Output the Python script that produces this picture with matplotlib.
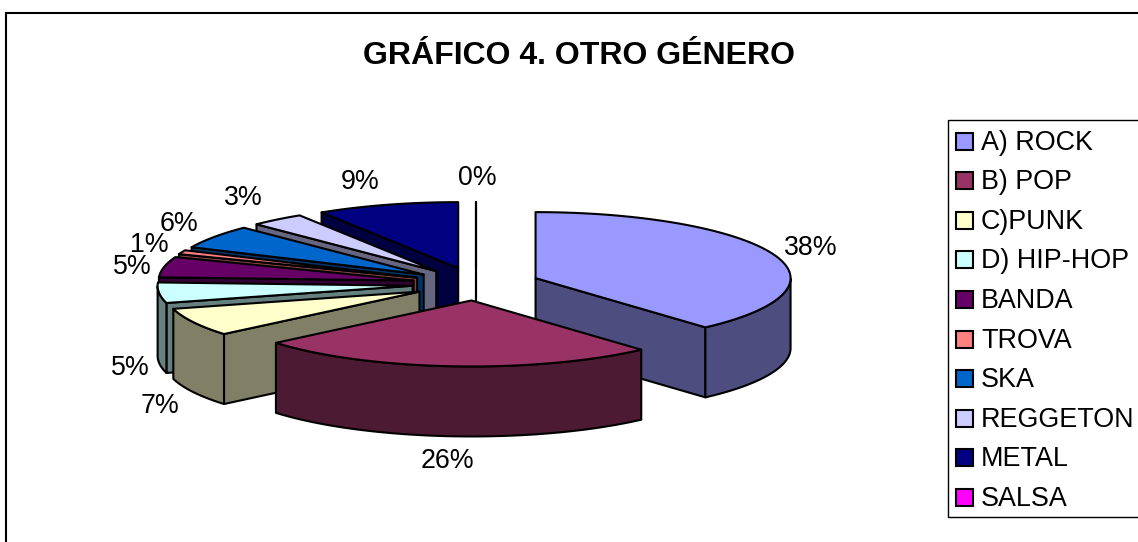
import numpy as np
import matplotlib
matplotlib.use("Agg")
import matplotlib.pyplot as plt
from matplotlib.patches import Polygon, Rectangle

plt.rcParams["font.family"] = ["Liberation Sans", "DejaVu Sans"]

# chart data (slice sizes estimated from the outline, labels are rounded)
genres = ["A) ROCK", "B) POP", "C)PUNK", "D) HIP-HOP", "BANDA",
          "TROVA", "SKA", "REGGETON", "METAL", "SALSA"]
shares = [38.4, 25.5, 6.9, 5.0, 5.0, 1.0, 5.75, 3.45, 9.0, 0.0]
colors = ["#9999FF", "#993366", "#FFFFCC", "#CCFFFF", "#660066",
          "#FF8080", "#0066CC", "#CCCCFF", "#000080", "#FF00FF"]
title = "GRÁFICO 4. OTRO GÉNERO"

# pie geometry in pixels
CX, CY = 476, 284
RX, RY = 255, 66
DEPTH = 70
EXPLODE = 0.25
LW = 1.5

# where Excel put the percent labels (same order as genres)
label_xy = [(811, 248), (447, 461), (160, 406), (130, 368), (132, 267),
            (149, 245), (179, 224), (243, 198), (360, 182), (477, 178)]
# back slices first, pop goes on top of everything
draw_order = [9, 8, 7, 6, 5, 4, 3, 2, 0, 1]


def darker(color, factor=0.5):
    rgb = np.array(matplotlib.colors.to_rgb(color))
    return tuple(rgb * factor)


def draw_slice(ax, start, end, color):
    """start/end in degrees, clockwise from 12 o'clock."""
    mid = np.radians((start + end) / 2)
    ax0 = CX + EXPLODE * RX * np.sin(mid)
    ay0 = CY - EXPLODE * RY * np.cos(mid)
    t = np.radians(np.linspace(start, end, max(int(end - start) * 2, 2)))
    xs = ax0 + RX * np.sin(t)
    ys = ay0 - RY * np.cos(t)
    side = darker(color)
    kw = dict(edgecolor="black", linewidth=LW, joinstyle="round")

    # cut walls, only the ones that face the viewer
    visible = []
    if start >= 180:
        visible.append(0)
    if end <= 180:
        visible.append(-1)
    for i in visible:
        wall = [(ax0, ay0), (xs[i], ys[i]), (xs[i], ys[i] + DEPTH), (ax0, ay0 + DEPTH)]
        ax.add_patch(Polygon(wall, facecolor=side, **kw))

    # outer wall, only the part facing the viewer
    front = np.cos(t) <= 0
    if front.sum() > 1:
        fx, fy = xs[front], ys[front]
        outer = np.r_[np.c_[fx, fy], np.c_[fx, fy + DEPTH][::-1]]
        ax.add_patch(Polygon(outer, facecolor=side, **kw))

    top = np.r_[[(ax0, ay0)], np.c_[xs, ys]]
    ax.add_patch(Polygon(top, facecolor=color, **kw))


fig = plt.figure(figsize=(11.38, 5.42), dpi=100)
ax = fig.add_axes([0, 0, 1, 1])
ax.set_xlim(0, 1138)
ax.set_ylim(542, 0)
ax.axis("off")

# chart frame runs off the right and bottom of the image
ax.add_patch(Rectangle((6, 13), 1140, 540, facecolor="white", edgecolor="black", linewidth=LW))

cum = np.cumsum([0] + shares) / sum(shares) * 360
for i in draw_order:
    draw_slice(ax, cum[i], cum[i + 1], colors[i])

for share, (x, y) in zip(shares, label_xy):
    ax.text(x, y, f"{share:.0f}%", fontsize=19.3, ha="center", va="center", color="black")

ax.text(579, 56, title, fontsize=23, fontweight="bold", ha="center", va="center")

# legend
ax.add_patch(Rectangle((948, 120), 200, 397, facecolor="white", edgecolor="black", linewidth=1))
for i, (name, color) in enumerate(zip(genres, colors)):
    y = 141 + i * 39.6
    ax.add_patch(Rectangle((956, y - 8.5), 17, 17, facecolor=color, edgecolor="black", linewidth=LW))
    ax.text(981, y + 1.5, name, fontsize=19.4, ha="left", va="center")

fig.savefig("out.png", dpi=100)
